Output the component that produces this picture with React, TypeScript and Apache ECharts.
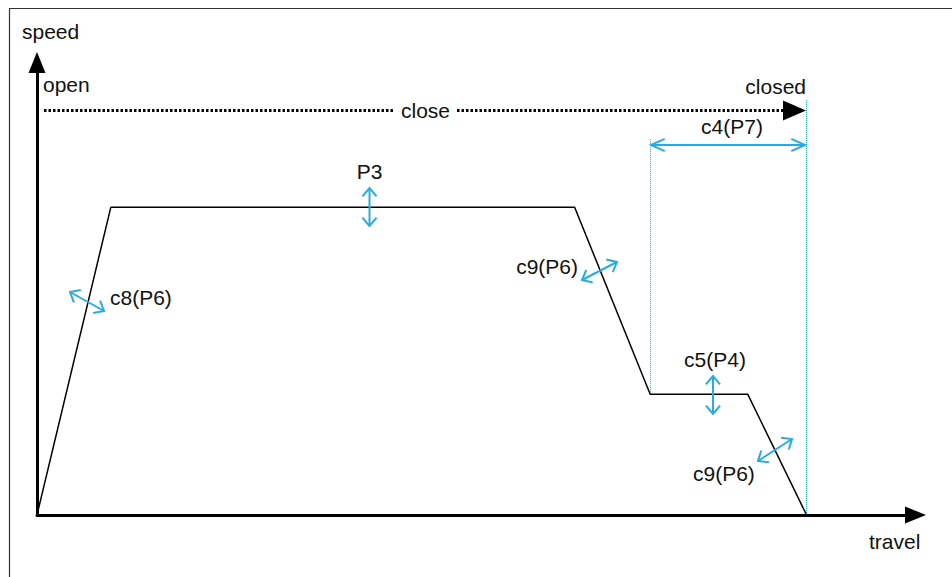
import React, { useEffect, useRef } from "react";
import * as echarts from "echarts";

// Speed profile (arbitrary units: travel 0..100, speed 0..100)
const travel = [0, 8.4, 61.2, 69.8, 80.9, 87.6];
const speed = [0, 68, 68, 26.7, 26.7, 0];
// vertical guide lines: [travel, speedFrom, speedTo]
const guides = [
  [69.8, 26.7, 83.1],
  [87.6, 0, 91.7],
];
const axisNames = ["speed", "travel"];
const stateLabels = ["open", "close", "closed"];
const paramLabels = ["c4(P7)", "P3", "c8(P6)", "c9(P6)", "c5(P4)", "c9(P6)"];

const BLUE = "#29abe2";
const FONT = '"Liberation Sans", Arial, sans-serif';
const FS = 21;

function txt(text: string, x: number, y: number, align: string) {
  return {
    type: "text",
    x,
    y,
    z: 20,
    style: { text, fill: "#111", fontSize: FS, fontFamily: FONT, align, verticalAlign: "middle" },
  };
}

function dblArrow(x1: number, y1: number, x2: number, y2: number, len: number, angDeg: number) {
  const a = Math.atan2(y2 - y1, x2 - x1);
  const h = (angDeg * Math.PI) / 180;
  const head = (tx: number, ty: number, dir: number) => ({
    type: "polyline",
    z: 20,
    shape: {
      points: [
        [tx + len * Math.cos(dir + h), ty + len * Math.sin(dir + h)],
        [tx, ty],
        [tx + len * Math.cos(dir - h), ty + len * Math.sin(dir - h)],
      ],
    },
    style: { stroke: BLUE, lineWidth: 2, fill: null },
  });
  return [
    { type: "line", z: 20, shape: { x1, y1, x2, y2 }, style: { stroke: BLUE, lineWidth: 2 } },
    head(x1, y1, a),
    head(x2, y2, a + Math.PI),
  ];
}

export default function App() {
  const ref = useRef<HTMLDivElement>(null);
  useEffect(() => {
    if (!ref.current) return;
    const chart = echarts.init(ref.current, null, { renderer: "svg" });
    const axisCommon = {
      type: "value",
      min: 0,
      max: 100,
      axisLine: {
        show: true,
        onZero: true,
        symbol: ["none", "triangle"],
        symbolSize: [17, 21],
        lineStyle: { color: "#000", width: 3 },
      },
      axisTick: { show: false },
      axisLabel: { show: false },
      splitLine: { show: false },
    };
    const dotLine = (x1: number, x2: number) => ({
      type: "line",
      z: 15,
      shape: { x1, y1: 110.5, x2, y2: 110.5 },
      style: { stroke: "#000", lineWidth: 3, lineDash: [2.5, 2] },
    });
    chart.setOption({
      animation: false,
      backgroundColor: "#fff",
      grid: { left: 37, top: 62.5, right: 36.5, bottom: 62 },
      xAxis: axisCommon,
      yAxis: axisCommon,
      series: [
        {
          type: "line",
          data: travel.map((t, i) => [t, speed[i]]),
          symbol: "none",
          lineStyle: { color: "#000", width: 1.5 },
          z: 5,
          markLine: {
            silent: true,
            symbol: ["none", "none"],
            label: { show: false },
            lineStyle: { color: BLUE, type: "dotted", width: 1 },
            data: guides.map((g) => [{ coord: [g[0], g[1]] }, { coord: [g[0], g[2]] }]),
          },
        },
      ],
      graphic: [
        {
          type: "rect",
          z: 1,
          shape: { x: 9.5, y: 8.5, width: 1200, height: 1200 },
          style: { fill: null, stroke: "#333", lineWidth: 1.2 },
        },
        txt(axisNames[0], 22, 31, "left"),
        txt(axisNames[1], 869, 541, "left"),
        txt(stateLabels[0], 43, 84, "left"),
        txt(stateLabels[1], 425.5, 110, "center"),
        txt(stateLabels[2], 806, 86, "right"),
        dotLine(44, 393),
        dotLine(457, 784),
        {
          type: "polygon",
          z: 15,
          shape: { points: [[783, 100.5], [806, 110.5], [783, 120.5]] },
          style: { fill: "#000" },
        },
        txt(paramLabels[0], 732, 126, "center"),
        ...dblArrow(651, 145, 805, 145, 15, 24),
        txt(paramLabels[1], 369.5, 171, "center"),
        ...dblArrow(369.5, 188, 369.5, 226, 11, 40),
        txt(paramLabels[2], 110, 297, "left"),
        ...dblArrow(70, 292, 104, 311, 11, 40),
        txt(paramLabels[3], 578, 266, "right"),
        ...dblArrow(582, 280, 617, 262, 11, 40),
        txt(paramLabels[4], 715, 359, "center"),
        ...dblArrow(713, 376, 713, 414, 11, 40),
        txt(paramLabels[5], 693, 473, "left"),
        ...dblArrow(758, 461, 792, 439, 11, 40),
      ],
    });
    return () => chart.dispose();
  }, []);
  return (
    <div
      ref={ref}
      style={{ position: "absolute", left: 0, top: 0, width: 952, height: 577 }}
    />
  );
}
